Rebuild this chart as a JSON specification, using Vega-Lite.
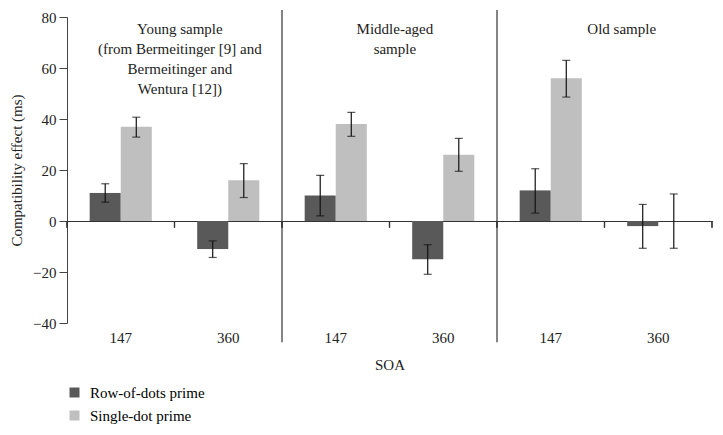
{
  "$schema": "https://vega.github.io/schema/vega-lite/v6.json",
  "width": 645,
  "height": 306,
  "autosize": "none",
  "padding": {"left": 67, "top": 17, "right": 11, "bottom": 112},
  "background": "white",
  "config": {
    "view": {"stroke": null},
    "font": "Liberation Serif",
    "axis": {"labelFont": "Liberation Serif", "titleFont": "Liberation Serif", "labelColor": "#222", "titleColor": "#222", "titleFontWeight": "normal", "domainColor": "#444", "tickColor": "#444", "grid": false},
    "legend": {"labelFont": "Liberation Serif"}
  },
  "datasets": {
    "bars": [
      {"cat": "Young|147", "prime": "Row-of-dots prime", "v": 11, "lo": 7.4, "hi": 14.6},
      {"cat": "Young|147", "prime": "Single-dot prime", "v": 37, "lo": 32.9, "hi": 40.7},
      {"cat": "Young|360", "prime": "Row-of-dots prime", "v": -11, "lo": -14.3, "hi": -7.8},
      {"cat": "Young|360", "prime": "Single-dot prime", "v": 16, "lo": 9.2, "hi": 22.5},
      {"cat": "Middle|147", "prime": "Row-of-dots prime", "v": 10, "lo": 2, "hi": 17.9},
      {"cat": "Middle|147", "prime": "Single-dot prime", "v": 38, "lo": 33.2, "hi": 42.6},
      {"cat": "Middle|360", "prime": "Row-of-dots prime", "v": -15, "lo": -20.9, "hi": -9.3},
      {"cat": "Middle|360", "prime": "Single-dot prime", "v": 26, "lo": 19.5, "hi": 32.4},
      {"cat": "Old|147", "prime": "Row-of-dots prime", "v": 12, "lo": 3.1, "hi": 20.5},
      {"cat": "Old|147", "prime": "Single-dot prime", "v": 56, "lo": 48.6, "hi": 63},
      {"cat": "Old|360", "prime": "Row-of-dots prime", "v": -2, "lo": -10.7, "hi": 6.5},
      {"cat": "Old|360", "prime": "Single-dot prime", "v": 0, "lo": -10.7, "hi": 10.6}
    ],
    "groups": [
      {"cat": "Young|147", "title": "Young sample\n(from Bermeitinger [9] and\nBermeitinger and\nWentura [12])"},
      {"cat": "Middle|147", "title": "Middle-aged\nsample"},
      {"cat": "Old|147", "title": "Old sample"}
    ]
  },
  "layer": [
    {
      "data": {"name": "bars"},
      "mark": {"type": "bar"},
      "encoding": {
        "x": {"field": "cat", "type": "nominal", "sort": ["Young|147", "Young|360", "Middle|147", "Middle|360", "Old|147", "Old|360"],
              "scale": {"paddingInner": 0, "paddingOuter": 0},
              "axis": {"orient": "bottom", "title": "SOA", "titleFontSize": 15, "titlePadding": 12, "labelFontSize": 15, "labelAngle": 0, "labelPadding": 7, "domain": false, "ticks": false, "labelExpr": "split(datum.value, '|')[1]"}},
        "xOffset": {"field": "prime", "type": "nominal", "scale": {"paddingInner": 0, "paddingOuter": 0.73}},
        "y": {"field": "v", "type": "quantitative", "scale": {"domain": [-40, 80], "nice": false, "zero": true},
              "axis": {"title": "Compatibility effect (ms)", "titleFontSize": 15, "titlePadding": 8, "labelFontSize": 15, "values": [-40, -20, 0, 20, 40, 60, 80], "tickSize": 8, "labelPadding": 3,
                       "grid": true, "gridWidth": 1.2, "gridColor": {"condition": {"test": "datum.value === 0", "value": "#333"}, "value": "transparent"}}},
        "color": {"field": "prime", "type": "nominal", "scale": {"range": ["#595959", "#bfbfbf"]},
                  "legend": {"orient": "none", "legendX": 0, "legendY": 368, "title": null, "symbolType": "square", "symbolSize": 100, "symbolStrokeWidth": 0, "labelFontSize": 15, "labelFont": "Liberation Serif", "rowPadding": 7, "labelOffset": 8}}
      }
    },
    {
      "data": {"name": "bars"},
      "mark": {"type": "rule", "color": "#333", "strokeWidth": 1.2},
      "encoding": {
        "x": {"field": "cat", "type": "nominal", "bandPosition": 0, "sort": ["Young|147", "Young|360", "Middle|147", "Middle|360", "Old|147", "Old|360"]},
        "y": {"datum": 0, "type": "quantitative"},
        "y2": {"datum": -2.6}
      }
    },
    {
      "data": {"name": "bars"},
      "transform": [{"filter": "datum.cat == 'Old|360'"}],
      "mark": {"type": "rule", "color": "#333", "strokeWidth": 1.2},
      "encoding": {
        "x": {"field": "cat", "type": "nominal", "bandPosition": 1, "sort": ["Young|147", "Young|360", "Middle|147", "Middle|360", "Old|147", "Old|360"]},
        "y": {"datum": 0, "type": "quantitative"},
        "y2": {"datum": -2.6}
      }
    },
    {
      "data": {"name": "groups"},
      "transform": [{"filter": "datum.cat != 'Young|147'"}],
      "mark": {"type": "rule", "color": "#333", "strokeWidth": 1.2},
      "encoding": {
        "x": {"field": "cat", "type": "nominal", "bandPosition": 0, "sort": ["Young|147", "Young|360", "Middle|147", "Middle|360", "Old|147", "Old|360"]},
        "y": {"datum": 82.7, "type": "quantitative"},
        "y2": {"datum": -47.5}
      }
    },
    {
      "data": {"name": "bars"},
      "mark": {"type": "rule", "color": "#111", "strokeWidth": 1.2},
      "encoding": {
        "x": {"field": "cat", "type": "nominal", "sort": ["Young|147", "Young|360", "Middle|147", "Middle|360", "Old|147", "Old|360"]},
        "xOffset": {"field": "prime", "type": "nominal"},
        "y": {"field": "lo", "type": "quantitative"},
        "y2": {"field": "hi"}
      }
    },
    {
      "data": {"name": "bars"},
      "mark": {"type": "tick", "color": "#111", "orient": "horizontal", "size": 8, "thickness": 1.2},
      "encoding": {
        "x": {"field": "cat", "type": "nominal", "sort": ["Young|147", "Young|360", "Middle|147", "Middle|360", "Old|147", "Old|360"]},
        "xOffset": {"field": "prime", "type": "nominal"},
        "y": {"field": "lo", "type": "quantitative"}
      }
    },
    {
      "data": {"name": "bars"},
      "mark": {"type": "tick", "color": "#111", "orient": "horizontal", "size": 8, "thickness": 1.2},
      "encoding": {
        "x": {"field": "cat", "type": "nominal", "sort": ["Young|147", "Young|360", "Middle|147", "Middle|360", "Old|147", "Old|360"]},
        "xOffset": {"field": "prime", "type": "nominal"},
        "y": {"field": "hi", "type": "quantitative"}
      }
    },
    {
      "data": {"name": "groups"},
      "transform": [{"filter": "datum.cat != 'Old|147'"}],
      "mark": {"type": "text", "lineBreak": "\n", "baseline": "top", "align": "center", "fontSize": 15, "lineHeight": 20, "dy": 5, "color": "#222", "font": "Liberation Serif"},
      "encoding": {
        "x": {"field": "cat", "type": "nominal", "bandPosition": 1.05, "sort": ["Young|147", "Young|360", "Middle|147", "Middle|360", "Old|147", "Old|360"]},
        "y": {"datum": 80, "type": "quantitative"},
        "text": {"field": "title"}
      }
    },
    {
      "data": {"name": "groups"},
      "transform": [{"filter": "datum.cat == 'Old|147'"}],
      "mark": {"type": "text", "lineBreak": "\n", "baseline": "top", "align": "center", "fontSize": 15, "lineHeight": 20, "dy": 5, "color": "#222", "font": "Liberation Serif"},
      "encoding": {
        "x": {"field": "cat", "type": "nominal", "bandPosition": 1.16, "sort": ["Young|147", "Young|360", "Middle|147", "Middle|360", "Old|147", "Old|360"]},
        "y": {"datum": 80, "type": "quantitative"},
        "text": {"field": "title"}
      }
    }
  ]
}
